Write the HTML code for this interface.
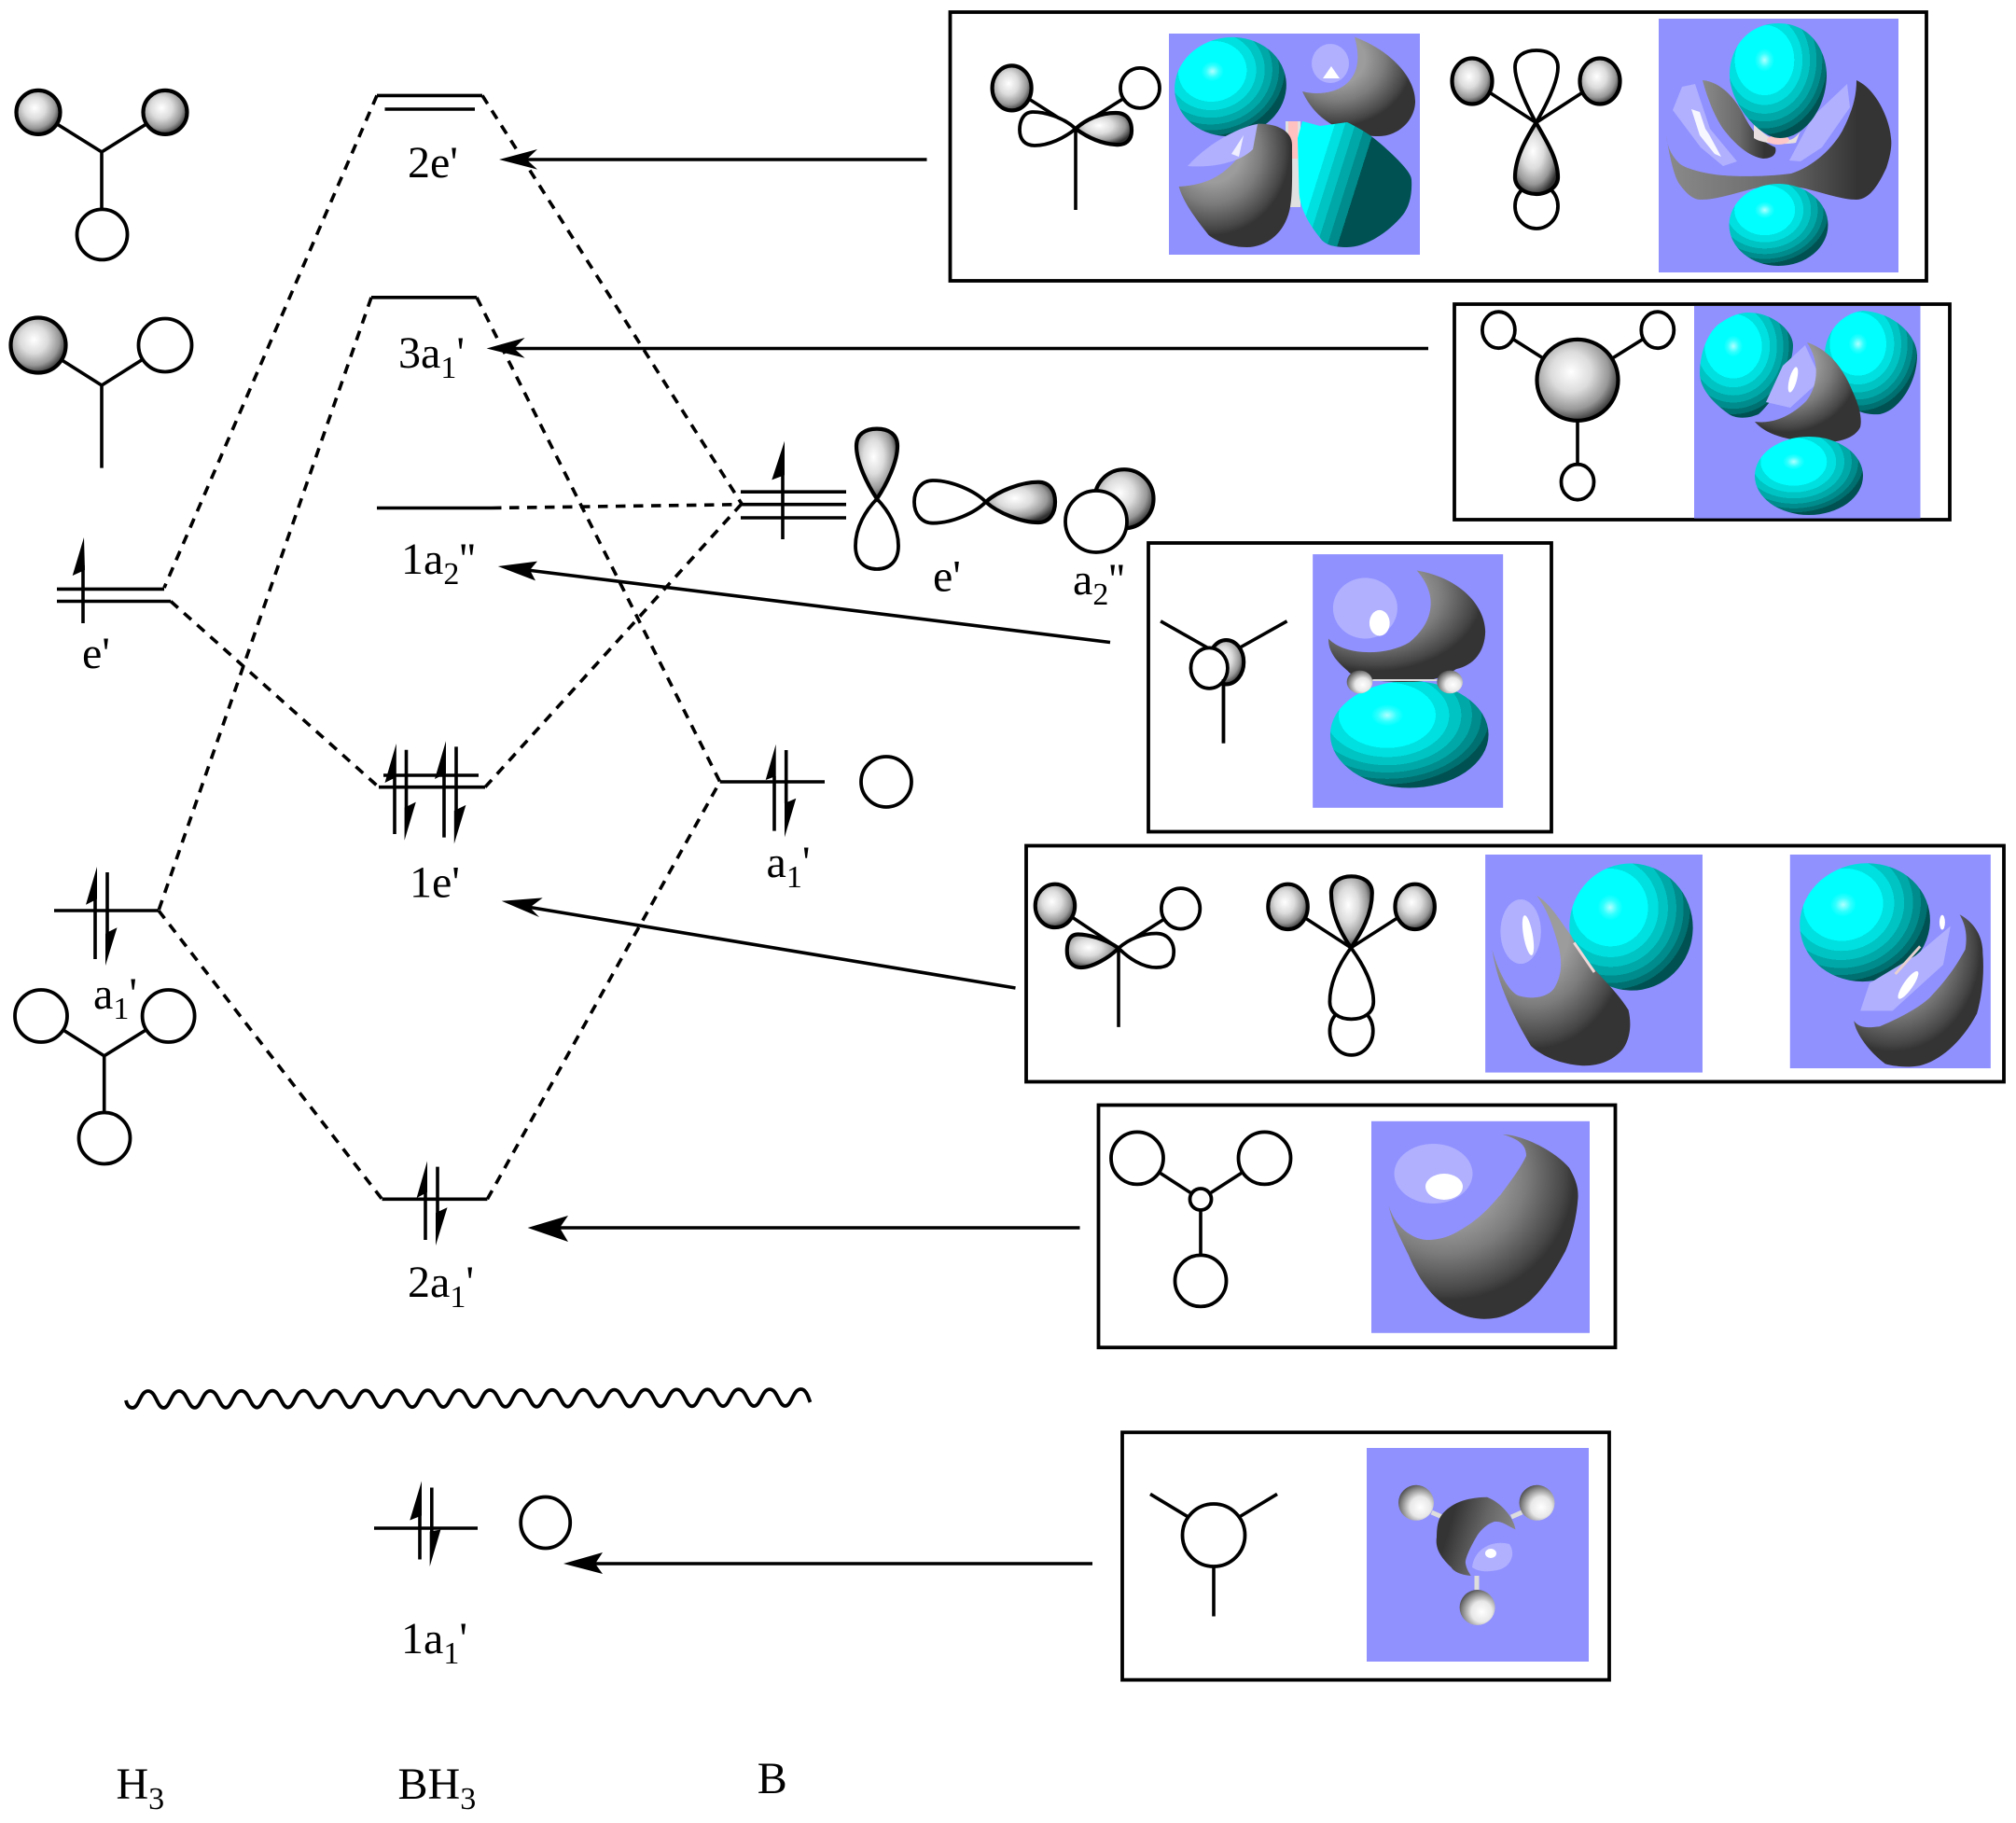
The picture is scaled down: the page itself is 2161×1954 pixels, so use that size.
<!DOCTYPE html>
<html><head><meta charset="utf-8"><style>
html,body{margin:0;padding:0;background:#fff}
svg{display:block}
text{font-family:"Liberation Serif",serif;font-size:48px;fill:#000}
.l{stroke:#000;stroke-width:3.6;fill:none}
.w{stroke:#000;stroke-width:3.8;fill:#fff}
.s{stroke:#000;stroke-width:4.2;fill:url(#ob)}
.d{stroke:#000;stroke-width:3.6;fill:none;stroke-dasharray:10.5 8.5}
.a{fill:#000;stroke:none}
.b{fill:none;stroke:#000;stroke-width:3.8}
.p{fill:#9090ff}
.c{fill:url(#cy)}.g{fill:url(#gr)}.lv{fill:#b0b0ff}.wh{fill:#fff}
</style></head><body>
<svg width="2161" height="1954" viewBox="0 0 2161 1954" xmlns="http://www.w3.org/2000/svg">
<defs>
<radialGradient id="ob" cx=".42" cy=".4" r=".62"><stop offset="0" stop-color="#fff"/><stop offset=".4" stop-color="#dcdcdc"/><stop offset=".75" stop-color="#989898"/><stop offset="1" stop-color="#303030"/></radialGradient>
<radialGradient id="cy" cx=".36" cy=".32" r=".85"><stop offset="0" stop-color="#b0ffff"/><stop offset=".07" stop-color="#30ffff"/><stop offset=".12" stop-color="#00ffff"/><stop offset=".36" stop-color="#00ffff"/><stop offset=".36" stop-color="#00e0e0"/><stop offset=".46" stop-color="#00e0e0"/><stop offset=".46" stop-color="#00c4c4"/><stop offset=".55" stop-color="#00c4c4"/><stop offset=".55" stop-color="#00a8a8"/><stop offset=".63" stop-color="#00a8a8"/><stop offset=".63" stop-color="#008c8c"/><stop offset=".7" stop-color="#008c8c"/><stop offset=".7" stop-color="#007070"/><stop offset=".76" stop-color="#007070"/><stop offset=".76" stop-color="#005252"/><stop offset="1" stop-color="#005252"/></radialGradient>
<linearGradient id="cl" x1="0" y1=".25" x2="1" y2=".6"><stop offset=".22" stop-color="#00ffff"/><stop offset=".22" stop-color="#00e0e0"/><stop offset=".3" stop-color="#00e0e0"/><stop offset=".3" stop-color="#00c4c4"/><stop offset=".38" stop-color="#00c4c4"/><stop offset=".38" stop-color="#00a8a8"/><stop offset=".46" stop-color="#00a8a8"/><stop offset=".46" stop-color="#008c8c"/><stop offset=".54" stop-color="#008c8c"/><stop offset=".54" stop-color="#005252"/><stop offset="1" stop-color="#005252"/></linearGradient>
<radialGradient id="gr" cx=".3" cy=".22" r=".85"><stop offset=".3" stop-color="#9c9c9c"/><stop offset=".4" stop-color="#8c8c8c"/><stop offset=".5" stop-color="#7c7c7c"/><stop offset=".58" stop-color="#6a6a6a"/><stop offset=".66" stop-color="#585858"/><stop offset=".74" stop-color="#464646"/><stop offset=".8" stop-color="#343434"/><stop offset="1" stop-color="#343434"/></radialGradient>
<linearGradient id="gb" x1="0" x2="1" y1="0" y2="0"><stop offset="0" stop-color="#8a8a8a"/><stop offset=".5" stop-color="#6a6a6a"/><stop offset=".85" stop-color="#343434"/><stop offset="1" stop-color="#343434"/></linearGradient>
<linearGradient id="gh" x1="0" x2="1" y1=".2" y2=".5"><stop offset=".2" stop-color="#343434"/><stop offset=".6" stop-color="#666"/><stop offset="1" stop-color="#8a8a8a"/></linearGradient>
<radialGradient id="hs" cx=".62" cy=".62" r=".65"><stop offset="0" stop-color="#fff"/><stop offset=".45" stop-color="#e8e8e8"/><stop offset=".85" stop-color="#808080"/><stop offset="1" stop-color="#555"/></radialGradient>
</defs>
<rect width="2161" height="1954" fill="#fff"/>

<!-- H3 fragments -->
<path class="l" d="M41 120.400L109 162.900L177 120.400M109 162.900V251"/>
<circle class="s" cx="41" cy="120.400" r="23.500"/><circle class="s" cx="177" cy="120.400" r="23.500"/><circle class="w" cx="109.500" cy="251.400" r="27"/>
<path class="l" d="M41 370L109 413L177 370M109 413V501.600"/>
<circle class="s" cx="41" cy="370" r="29.500"/><circle class="w" cx="177" cy="370" r="28.500"/>
<path class="l" d="M44 1089L111.700 1131.800L180.600 1089M111.700 1131.800V1220"/>
<circle class="w" cx="44" cy="1089" r="28"/><circle class="w" cx="180.600" cy="1089" r="28"/><circle class="w" cx="112" cy="1220" r="27.500"/>

<!-- dashed correlation lines -->
<path class="d" d="M404 102.400L176 630"/>
<path class="d" d="M517 102.400L795 540"/>
<path class="d" d="M398 318.800L170 976"/>
<path class="d" d="M511 318.800L771.700 838"/>
<path class="d" d="M183 644.500L406 843.700"/>
<path class="d" d="M170 976L409.500 1285.300"/>
<path class="d" d="M520 843.700L795 540"/>
<path class="d" d="M522.400 1285.300L771.700 838"/>
<path class="d" d="M527 544.500L795 540.700"/>

<!-- levels -->
<path class="l" d="M404 102.400H517M412.500 117H509M398 318.800H511M404 544.500H527"/>
<path class="l" d="M61 631.400H176M61 644.500H183"/>
<path class="l" d="M411 831H513M406 843.700H520"/>
<path class="l" d="M58 976H170M409.500 1285.300H522.400"/>
<path class="l" d="M794 527.200H907M794 540.700H907M794 555H907"/>
<path class="l" d="M771.700 838H884"/>
<path class="l" d="M401 1638H512"/>

<!-- electrons -->
<path class="l" d="M89 668V606"/><polygon class="a" points="90,576 77.700,617 91,611"/>
<path class="l" d="M423 894V833M435.500 803.700V866"/><polygon class="a" points="424.800,797 412.500,839 424.800,833"/><polygon class="a" points="433.600,900.800 445.800,859.600 433.600,865.700"/>
<path class="l" d="M476 897.600V829M489 800.400V869"/><polygon class="a" points="478,794.300 466,835 478,829"/><polygon class="a" points="486.800,904.500 499.400,862.900 486.800,869"/>
<path class="l" d="M102 1028V964M115 935V1000"/><polygon class="a" points="104,929 92,969.800 104,963.700"/><polygon class="a" points="113,1035 125.500,994.300 113,1000.400"/>
<path class="l" d="M456 1329V1278M469 1250.600V1300"/><polygon class="a" points="458,1244.500 446.600,1284 458,1278"/><polygon class="a" points="467,1335 479.500,1294.300 467,1300"/>
<path class="l" d="M839 578V509"/><polygon class="a" points="841,472.800 827.300,514.400 841,509.300"/>
<path class="l" d="M830 890.600V832M842.700 804V861"/><polygon class="a" points="831.700,797.700 820.700,836 831.700,832"/><polygon class="a" points="841,897.400 853.300,855.800 841,861"/>
<g transform="translate(0 -1.500)">
<path class="l" d="M450 1673V1626M462.800 1596V1643"/><polygon class="a" points="452,1589 439.300,1631 452,1626"/><polygon class="a" points="460.700,1680.500 472.400,1641 460.700,1643"/>
</g>

<!-- B orbitals -->
<path class="w" d="M940 534.700C928 547 917 565 917 585C917 602 927 610 940 610C953 610 963 602 963 585C963 565 952 547 940 534.700Z"/>
<path class="s" d="M940 534.700C929 518 918 495 918 478C918 465 928 459.600 940 459.600C952 459.600 962 465 962 478C962 495 951 518 940 534.700Z"/>
<path class="w" d="M1056.700 538C1045 526 1020 515 1000 515C988 515 980 525 980 538C980 551 988 560.700 1000 560.700C1020 560.700 1045 550 1056.700 538Z"/>
<path class="s" d="M1056.700 538C1070 526 1095 516.700 1113 516.700C1125 516.700 1131 526 1131 538C1131 550 1125 560 1113 560C1095 560 1070 550 1056.700 538Z"/>
<circle class="s" cx="1205" cy="534.700" r="31.500"/><circle class="w" cx="1175" cy="559" r="33"/>
<circle class="w" cx="950" cy="838" r="27"/>
<ellipse class="w" cx="584.700" cy="1632" rx="26.500" ry="27.500"/>

<!-- arrows -->
<path class="l" d="M560 171H993.500"/><polygon class="a" points="535,171 576,160 564.500,171 576,181.600"/>
<path class="l" d="M548 373.500H1531"/><polygon class="a" points="521.600,373.500 562.600,362 551,373.500 562.600,383.700"/>
<path class="l" d="M565 611L1190 688.500"/><polygon class="a" points="533.800,607 576,601.600 568,611 574,622.400"/>
<path class="l" d="M565 972L1088.500 1059"/><polygon class="a" points="537.700,965.700 581.700,962.400 568,972.600 578,983"/>
<path class="l" d="M600 1316H1157.500"/><polygon class="a" points="565.600,1316 609,1303 600,1316 609,1331"/>
<path class="l" d="M636 1676H1171"/><polygon class="a" points="604,1676 646,1664 638,1676 646,1687"/>

<!-- squiggle: lead-in, first wave, then 20 identical waves, then tail -->
<path transform="translate(135 -1) scale(1.0096 1) translate(-135 0)" d="M135 1502c1 5 3 8 7 8c7 0 8-18 16.500-18c8.500 0 9.500 18 16.500 18
c7 0 8-18 16.500-18c8.500 0 9.500 17.900 16.500 17.900
c7 0 8-18 16.500-18c8.500 0 9.500 17.900 16.500 17.900
c7 0 8-18 16.500-18c8.500 0 9.500 17.900 16.500 17.900
c7 0 8-18 16.500-18c8.500 0 9.500 17.900 16.500 17.900
c7 0 8-18 16.500-18c8.500 0 9.500 17.900 16.500 17.900
c7 0 8-18 16.500-18c8.500 0 9.500 17.900 16.500 17.900
c7 0 8-18 16.500-18c8.500 0 9.500 17.900 16.500 17.900
c7 0 8-18 16.500-18c8.500 0 9.500 17.900 16.500 17.900
c7 0 8-18 16.500-18c8.500 0 9.500 17.900 16.500 17.900
c7 0 8-18 16.500-18c8.500 0 9.500 17.900 16.500 17.900
c7 0 8-18 16.500-18c8.500 0 9.500 17.900 16.500 17.900
c7 0 8-18 16.500-18c8.500 0 9.500 17.900 16.500 17.900
c7 0 8-18 16.500-18c8.500 0 9.500 17.900 16.500 17.900
c7 0 8-18 16.500-18c8.500 0 9.500 17.900 16.500 17.900
c7 0 8-18 16.500-18c8.500 0 9.500 17.900 16.500 17.900
c7 0 8-18 16.500-18c8.500 0 9.500 17.900 16.500 17.900
c7 0 8-18 16.500-18c8.500 0 9.500 17.900 16.500 17.900
c7 0 8-18 16.500-18c8.500 0 9.500 17.900 16.500 17.900
c7 0 8-18 16.500-18c8.500 0 9.500 17.900 16.500 17.900
c7 0 8-18 16.500-18c8.500 0 9.500 17.900 16.500 17.900
c7 0 8-18 16.500-18c6 0 8 9 10 14" fill="none" stroke="#000" stroke-width="3.800"/>

<!-- labels -->
<text x="437" y="189.800">2e'</text>
<text x="427" y="393.900">3a<tspan font-size="34" dy="11">1</tspan><tspan dy="-11">'</tspan></text>
<text x="430" y="615">1a<tspan font-size="34" dy="11">2</tspan><tspan dy="-11">''</tspan></text>
<text x="88" y="716">e'</text>
<text x="439" y="961.600">1e'</text>
<text x="100" y="1081">a<tspan font-size="34" dy="11">1</tspan><tspan dy="-11">'</tspan></text>
<text x="437" y="1390">2a<tspan font-size="34" dy="11">1</tspan><tspan dy="-11">'</tspan></text>
<text x="1000" y="633.400">e'</text>
<text x="1150" y="636.800">a<tspan font-size="34" dy="11">2</tspan><tspan dy="-11">''</tspan></text>
<text x="821.500" y="940">a<tspan font-size="34" dy="11">1</tspan><tspan dy="-11">'</tspan></text>
<text x="430" y="1772">1a<tspan font-size="34" dy="11">1</tspan><tspan dy="-11">'</tspan></text>
<text x="124.500" y="1928">H<tspan font-size="34" dy="11">3</tspan></text>
<text x="426.500" y="1928">BH<tspan font-size="34" dy="11">3</tspan></text>
<text x="811.700" y="1922">B</text>

<!-- Box 1 -->
<rect class="b" x="1018.500" y="13" width="1046.500" height="288"/>
<g transform="translate(-1 0)">
<path class="l" d="M1085.600 94.400L1154 138L1223 94.400M1154 138V225"/>
<ellipse class="s" cx="1085.600" cy="94.400" rx="21" ry="24"/><ellipse class="w" cx="1223" cy="94.400" rx="21" ry="21.500"/>
<path class="w" d="M1154 138C1140 125 1120 120 1108 120C1098 120 1094 130 1094 139C1094 150 1100 156 1110 156C1125 156 1142 148 1154 138Z"/>
<path class="s" d="M1154 138C1165 128 1180 121 1197 121C1210 121 1214 130 1214 140C1214 150 1208 156 1197 155C1180 154 1165 146 1154 138Z"/>
</g>
<rect class="p" x="1253" y="36" width="269" height="237"/>
<g transform="translate(-2 0)">
<ellipse class="c" cx="1321" cy="93" rx="60" ry="53" transform="rotate(-8 1321 93)"/>
<ellipse class="lv" cx="1428" cy="68" rx="20" ry="21"/><path class="wh" d="M1429 71L1438 84L1420 84Z"/>
<path class="g" d="M1454 39.600C1495 55 1520 85 1519 110C1518 130 1500 146 1480 146C1450 146 1415 135 1398 98C1425 105 1470 95 1454 39.600Z"/>
<rect x="1380" y="130" width="16" height="92" fill="#e0e0e0"/><rect x="1383" y="130" width="10" height="40" fill="#ffc0c0"/>
<path class="g" d="M1350 132.600C1370 132 1387 140 1387 155C1387 190 1388 215 1383 230C1375 255 1355 265 1338.500 265C1320 265 1305 258 1297.600 252C1280 230 1270 215 1265.600 200C1295 198 1325 190 1350 132.600Z"/>
<path class="lv" d="M1350 133C1335 135 1300 150 1275 178C1300 180 1330 175 1345 160Z"/>
<path class="wh" d="M1335 145L1330 168L1322 165Z" opacity=".8"/>
<path fill="url(#cl)" d="M1393 148L1398 130L1417 135L1446 131C1465 140 1475 148 1483 155C1500 170 1515 185 1515 192.600C1516 210 1512 222 1506 230C1490 250 1465 265 1446 265C1430 265 1422 262 1417 255C1405 240 1396 225 1394.600 207Z"/>
</g>

<g transform="translate(-3 0)">
<path class="l" d="M1581 87L1649.500 131.500L1718 87"/>
<ellipse class="s" cx="1581" cy="87" rx="21.500" ry="24.500"/><ellipse class="s" cx="1718" cy="87" rx="21.500" ry="24.500"/>
<ellipse class="w" cx="1650" cy="221" rx="23" ry="24"/>
<path class="w" d="M1649.500 131.500C1635 105 1627 85 1627 72C1627 60 1637 54 1650 54C1663 54 1673 60 1673 72C1673 85 1665 105 1649.500 131.500Z"/>
<path class="s" d="M1649.500 131.500C1660 150 1673 170 1673 190C1673 200 1662 208 1650 208C1637 208 1627 200 1627 190C1627 170 1638 150 1649.500 131.500Z"/>
</g>
<rect class="p" x="1778" y="20" width="257" height="272"/>
<path fill="url(#gb)" d="M1786 145C1790 170 1795 190 1800 197C1808 208 1815 214 1823 214C1840 214 1860 207 1880 202L1907 197L1935 202C1955 207 1975 214 1990 214C2005 214 2015 195 2022 180C2027 165 2028 155 2027 148C2025 125 2010 95 1990 86C1990 105 1985 120 1975 140C1965 158 1945 178 1920 186C1890 190 1860 189 1847 188C1825 186 1805 180 1800 175C1790 165 1787 155 1786 145Z"/>
<path class="lv" d="M1793 118L1803 93L1817 90L1833 138L1862 173L1847 178L1823 158Z"/>
<path class="wh" d="M1813 117L1822 120L1828 138L1832 144L1845 168L1838 165L1822 145Z" opacity=".9"/>
<path class="lv" d="M1918 172L1943 125L1980 90L1983 115L1953 158L1930 173Z"/>
<path fill="url(#gb)" d="M1825 86C1845 88 1860 105 1870 125C1878 140 1885 150 1903 158C1905 165 1900 170 1890 170C1875 168 1860 155 1847 138C1838 125 1830 105 1825 86Z"/>
<path d="M1880 130C1890 150 1920 160 1930 140L1925 153C1915 155 1890 155 1880 148Z" fill="#e8e0e0"/>
<ellipse cx="1906" cy="150" rx="12" ry="5" fill="#ffc8c8"/>
<path class="c" d="M1906 25C1945 25 1958 60 1958 80C1958 115 1935 148 1908 148C1885 148 1854 110 1854 80C1854 50 1875 25 1906 25Z"/>
<ellipse class="c" cx="1906.500" cy="241" rx="53" ry="44"/>

<!-- Box 2 -->
<rect class="b" x="1559" y="326" width="531" height="231"/>
<g transform="translate(-3 0)">
<path class="l" d="M1609.400 353.700L1694 407.400L1779.800 353.700M1694 407.400V516"/>
<ellipse class="w" cx="1609.400" cy="353.700" rx="17.500" ry="19.500"/><ellipse class="w" cx="1779.800" cy="353.700" rx="17.500" ry="19.500"/><ellipse class="w" cx="1694" cy="516.700" rx="17.500" ry="19"/>
<circle class="s" cx="1694" cy="407.400" r="43.500"/>
</g>
<rect class="p" x="1816" y="328" width="242.500" height="227.600"/>
<g transform="translate(-4 0)">
<path class="c" d="M1878 335C1905 335 1926 355 1926 370C1926 395 1905 430 1889 444C1875 450 1862 448 1856 443C1838 430 1826 415 1826 400C1826 375 1837 352 1850 345C1860 338 1870 335 1878 335Z"/>
<path class="c" d="M2001 333C2035 335 2059 360 2059 381C2059 410 2040 440 2019 444C2005 445 1998 441 1997 441C1980 420 1962 400 1960 381C1960 355 1980 335 2001 333Z"/>
<path class="lv" d="M1939 370L1956 407L1923 437L1897 431L1915 392Z"/>
<ellipse class="wh" cx="1926" cy="407" rx="4" ry="14" transform="rotate(15 1926 407)"/>
<path class="g" d="M1941 367C1965 375 1980 395 1990 420C1998 437 2000 450 1998 458C1992 470 1975 474 1960 474C1935 474 1900 470 1885 452C1905 455 1925 445 1940 430C1952 415 1956 390 1941 367Z"/>
<ellipse class="c" cx="1943" cy="510" rx="58" ry="42"/>
</g>

<!-- Box 3 & Box 4 frames -->
<rect class="b" x="1231" y="582" width="432" height="309.500"/>
<rect class="b" x="1100" y="906.500" width="1048" height="253"/>

<g transform="translate(1200 570) scale(.9865 .9874) translate(-1200 -570)">
<path class="l" d="M1244.700 667L1313 705.700L1382 667M1313 705.700V799.500"/>
<ellipse class="s" cx="1316" cy="711.500" rx="19" ry="24"/>
<ellipse class="w" cx="1297.500" cy="718" rx="20" ry="22"/>
<path class="l" d="M1313 730V799.500"/>
<rect class="p" x="1410" y="594.400" width="206.800" height="275.200"/>
<ellipse cx="1515" cy="790" rx="86" ry="58" class="c"/>
<path class="g" d="M1523 612C1570 620 1597 650 1597.500 678.500C1597 700 1585 715 1566 719C1545 733 1525 733 1510.600 733C1480 733 1455 730 1448 721C1435 710 1427 700 1427 686C1445 705 1490 705 1515 690C1540 670 1548 640 1523 612Z"/>
<ellipse class="lv" cx="1467" cy="653" rx="35" ry="33"/>
<ellipse class="wh" cx="1482.600" cy="669" rx="11" ry="14"/>
<ellipse cx="1461" cy="733" rx="14" ry="12.500" fill="url(#hs)"/><ellipse cx="1559" cy="733" rx="14" ry="12.500" fill="url(#hs)"/>
<path d="M1475 731H1545" stroke="#ddd" stroke-width="2" fill="none"/>

<path class="l" d="M1130 976L1199 1022L1266.500 979M1199 1022V1107.600"/>
<ellipse class="s" cx="1130" cy="976" rx="21.500" ry="23.500"/><ellipse class="w" cx="1266.500" cy="979" rx="21" ry="22"/>
<path class="s" d="M1199 1022C1185 1012 1165 1007 1155 1007C1146 1007 1143 1015 1143 1025C1143 1037 1150 1043 1158 1043C1170 1043 1188 1033 1199 1022Z"/>
<path class="w" d="M1199 1022C1210 1012 1225 1006 1240 1006C1252 1006 1259 1015 1259 1026C1259 1038 1252 1043 1240 1043C1225 1043 1210 1033 1199 1022Z"/>
<path class="l" d="M1383 977L1451.500 1021.500L1521 977"/>
<ellipse class="s" cx="1383" cy="977" rx="21.500" ry="24.500"/><ellipse class="s" cx="1521" cy="977" rx="21.500" ry="24.500"/>
<ellipse class="w" cx="1452" cy="1112" rx="23.500" ry="26"/>
<path class="w" d="M1451.500 1021.500C1438 1040 1428.500 1060 1428.500 1080C1428.500 1092 1438 1099 1452 1099C1466 1099 1476 1092 1476 1080C1476 1060 1465 1040 1451.500 1021.500Z"/>
<path class="s" d="M1451.500 1021.500C1440 1005 1430 985 1430 962C1430 950 1440 944 1452 944C1464 944 1474.500 950 1474.500 962C1474.500 985 1463 1005 1451.500 1021.500Z"/>
<rect class="p" x="1597.500" y="920.400" width="236" height="236.600"/>
<ellipse class="c" cx="1756" cy="999" rx="67" ry="69" transform="rotate(-10 1756 999)"/>
<path class="g" d="M1653.400 965C1670 975 1680 995 1690.700 1008C1705 1040 1735 1060 1753 1089C1758 1110 1752 1125 1746.600 1132C1735 1145 1720 1150 1703 1149.500C1680 1148 1660 1140 1647 1128C1630 1100 1610 1060 1605 1023.500C1612 1050 1625 1072 1635 1074C1650 1078 1665 1075 1672 1066C1682 1050 1680 1035 1678 1023.500C1672 1000 1665 980 1653.400 965Z"/>
<ellipse class="lv" cx="1636" cy="1004" rx="22" ry="35"/>
<ellipse class="wh" cx="1644" cy="1008" rx="5" ry="22" transform="rotate(-10 1644 1008)"/>
<path d="M1694 1016L1716 1048" stroke="#f0d8d8" stroke-width="3" fill="none"/>
<rect class="p" x="1928.600" y="920.400" width="218" height="232"/>
<ellipse class="c" cx="2010" cy="994" rx="71" ry="64" transform="rotate(-10 2010 994)"/>
<path class="lv" d="M2103 998L2095 1040L2040 1090L2005 1090L2015 1060L2065 1030Z"/>
<ellipse class="wh" cx="2057" cy="1062" rx="5" ry="18" transform="rotate(35 2057 1062)"/>
<ellipse class="wh" cx="2094" cy="994" rx="3" ry="8"/>
<path class="g" d="M2113 985.500C2130 995 2138 1010 2138 1027C2140 1050 2137 1075 2131.700 1093C2115 1125 2090 1145 2069.600 1149.500C2055 1152 2040 1150 2032 1147.500C2015 1135 2000 1115 1998 1101C2005 1110 2015 1108 2026 1107C2055 1095 2075 1082 2082 1074C2100 1055 2110 1040 2119 1023.500C2122 1005 2118 995 2113 985.500Z"/>
<path d="M2043 1050L2070 1020" stroke="#e8d0d0" stroke-width="3" fill="none"/>
</g>

<!-- Box 5 -->
<rect class="b" x="1177.500" y="1184.500" width="554" height="259.800"/>
<path class="l" d="M1219 1241.400L1287 1285.500L1355.500 1241.400M1287 1285.500V1372"/>
<circle class="w" cx="1219" cy="1241.400" r="28"/><circle class="w" cx="1355.500" cy="1241.400" r="28"/><circle class="w" cx="1287" cy="1285.500" r="11.500"/><circle class="w" cx="1287" cy="1372.900" r="27.500"/>
<rect class="p" x="1470" y="1201.800" width="234" height="227"/>
<ellipse class="lv" cx="1536.500" cy="1258" rx="42" ry="32"/>
<ellipse class="wh" cx="1548" cy="1272" rx="20" ry="14"/>
<path class="g" d="M1611 1216C1630 1216 1665 1232 1682 1251.600C1690 1265 1692 1275 1691.500 1284C1690 1305 1685 1325 1678 1341C1665 1365 1655 1380 1640 1394.500C1620 1410 1605 1414 1590 1413.700C1570 1413 1558 1405 1548 1398.600C1530 1385 1518 1365 1510 1345.500C1500 1325 1492 1310 1488.700 1292.400C1495 1315 1515 1330 1532.700 1329C1550 1328 1560 1322 1571 1315C1590 1303 1600 1290 1609 1280C1620 1265 1630 1252 1636 1239C1636 1230 1632 1222 1611 1216Z"/>

<!-- Box 6 -->
<rect class="b" x="1203" y="1535.300" width="522" height="265.300"/>
<path class="l" d="M1233 1601.400L1277 1628M1369 1601.400L1325 1628M1301 1680V1732.500"/>
<circle class="w" cx="1301" cy="1645.500" r="33.500"/>
<rect class="p" x="1465" y="1552" width="238" height="229"/>
<path d="M1534.600 1621L1546 1626M1620 1626L1631.400 1621M1583 1689V1704" stroke="#ddd" stroke-width="5" fill="none"/>
<path class="lv" d="M1578 1680C1580 1660 1600 1650 1618 1655C1625 1665 1620 1680 1605 1683C1595 1685 1585 1685 1578 1680Z"/>
<ellipse class="wh" cx="1598" cy="1665" rx="6" ry="5"/>
<path fill="url(#gh)" d="M1546 1623C1555 1612 1570 1605 1594 1604.700C1608 1610 1622 1625 1624.500 1639.400C1615 1635 1610 1630 1601.600 1631C1590 1635 1584 1645 1582.500 1647.500C1575 1660 1570 1672 1571 1676C1572 1682 1575 1686 1576.700 1689C1565 1688 1558 1684 1555.700 1680C1545 1670 1538 1660 1540 1647.500C1540 1635 1542 1628 1546 1623Z"/>
<circle cx="1518" cy="1610.800" r="19" fill="url(#hs)"/><circle cx="1647.500" cy="1610.800" r="19" fill="url(#hs)"/><circle cx="1583.600" cy="1723" r="19" fill="url(#hs)"/>
</svg>
</body></html>
